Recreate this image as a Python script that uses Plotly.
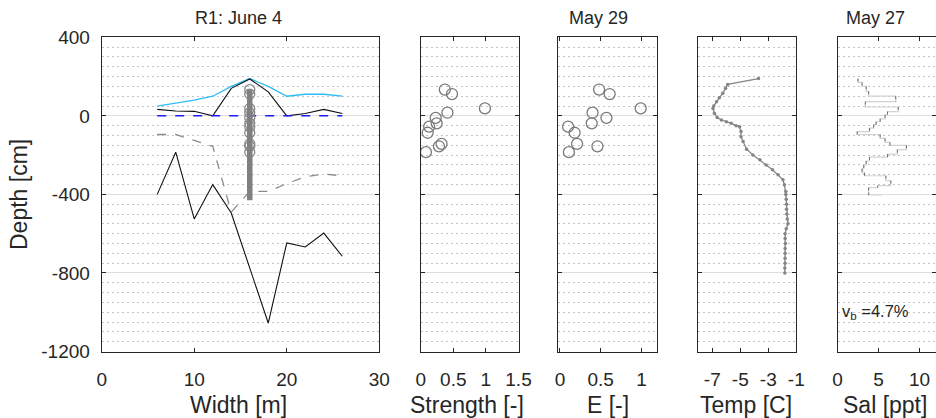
import plotly.graph_objects as go

# ---------------- data ----------------
width_x = [6, 8, 10, 12, 14, 16, 18, 20, 22, 24, 26]
snow_top = [50, 65, 80, 100, 150, 190, 150, 100, 110, 110, 100]
ice_top = [33, 25, 23, 0, 140, 188, 122, 0, 12, 33, 12]
water_level = [0, 0, 0, 0, 0, 0, 0, 0, 0, 0, 0]
ice_bottom = [-95, -95, -125, -155, -490, -385, -385, -345, -310, -297, -305]
ridge_bottom = [-400, -185, -525, -350, -495, -780, -1055, -647, -668, -597, -715]

core_x = 16
core_span = [134, -430]

sample_depth = [134, 111, 38, 16, -10, -38, -55, -86, -143, -155, -185]
strength = [0.37, 0.48, 0.985, 0.41, 0.23, 0.245, 0.13, 0.107, 0.32, 0.28, 0.08]
modulus_e = [0.48, 0.61, 0.99, 0.40, 0.57, 0.39, 0.10, 0.18, 0.21, 0.46, 0.11]

temp_depth = [190, 160, 140, 115, 92, 72, 50, 38, 13, -8, -21, -30, -38, -50, -55,
              -80, -106, -131, -170, -199, -224, -250, -275, -300, -326, -351, -385,
              -400, -425, -450, -475, -500, -525, -550, -575, -600, -625, -650, -675,
              -700, -725, -750, -775, -800]
temp_val = [-3.7, -5.9, -6.05, -6.25, -6.5, -6.7, -6.9, -6.95, -6.85, -6.65, -6.35, -6.0,
            -5.65, -5.3, -5.05, -4.95, -4.95, -4.8, -4.55, -4.1, -3.6, -3.15, -2.7, -2.3,
            -1.95, -1.85, -1.75, -1.75, -1.72, -1.7, -1.7, -1.68, -1.65, -1.6, -1.72, -1.8,
            -1.8, -1.78, -1.8, -1.8, -1.8, -1.8, -1.82, -1.82]

sal_top = [190, 170, 150, 125, 100, 72, 45, 22, 5, -15, -30, -45, -62, -80, -95,
           -115, -135, -150, -172, -195, -210, -230, -250, -270, -290, -305, -330, -355, -365]
sal_bot = [170, 150, 125, 100, 72, 45, 22, 5, -15, -30, -45, -62, -80, -95, -115,
           -135, -150, -172, -195, -210, -230, -250, -270, -290, -305, -330, -355, -365, -403]
sal_val = [2.5, 3.0, 3.5, 3.8, 7.1, 3.4, 7.4, 6.1, 5.8, 5.2, 4.7, 4.4, 3.9, 2.4, 5.2,
           5.8, 6.4, 8.4, 7.3, 6.1, 3.9, 3.5, 3.2, 3.0, 3.3, 5.9, 6.5, 4.9, 3.8]
sal_end = 5.4

titles = ["R1: June 4", "May 29", "May 27"]
xlabels = ["Width [m]", "Strength [-]", "E [-]", "Temp [C]", "Sal [ppt]"]
depth_ticks = [400, 0, -400, -800, -1200]

# ---------------- layout helpers ----------------
W, H = 936, 418
def px(p):
    return p / W
def py(p):
    return 1 - p / H

TXT = "#262626"
FONT = "Liberation Sans, Arial, sans-serif"
y_dom = [py(351.5), py(37.3)]

panels = [
    dict(dom=[101.7, 379.3], rng=[0, 30], tv=[0, 10, 20, 30], tt=["0", "10", "20", "30"]),
    dict(dom=[420.7, 518.5], rng=[0, 1.5], tv=[0, 0.5, 1, 1.5], tt=["0", "0.5", "1", "1.5"]),
    dict(dom=[558.3, 657.0], rng=[-0.02, 1.19], tv=[0, 0.5, 1], tt=["0", "0.5", "1"]),
    dict(dom=[698.3, 796.3], rng=[-8, -1], tv=[-7, -5, -3, -1], tt=["-7", "-5", "-3", "-1"]),
    dict(dom=[837.5, 935.5], rng=[0, 11.95], tv=[0, 5, 10], tt=["0", "5", "10"]),
]

fig = go.Figure()

def ax(i):
    return ("x" if i == 0 else f"x{i+1}"), ("y" if i == 0 else f"y{i+1}")

# main panel traces
xa, ya = ax(0)
fig.add_trace(go.Scatter(x=width_x, y=snow_top, mode="lines", line=dict(color="#2ebdf5", width=1.3),
                         xaxis=xa, yaxis=ya))
fig.add_trace(go.Scatter(x=width_x, y=ice_top, mode="lines", line=dict(color="#111111", width=1.1),
                         xaxis=xa, yaxis=ya))
fig.add_trace(go.Scatter(x=width_x, y=water_level, mode="lines",
                         line=dict(color="#1a1aff", width=1.5, dash="dash"), xaxis=xa, yaxis=ya))
fig.add_trace(go.Scatter(x=width_x, y=ice_bottom, mode="lines",
                         line=dict(color="#8c8c8c", width=1.3, dash="dash"), xaxis=xa, yaxis=ya))
fig.add_trace(go.Scatter(x=width_x, y=ridge_bottom, mode="lines", line=dict(color="#111111", width=1.1),
                         xaxis=xa, yaxis=ya))
fig.add_trace(go.Scatter(x=[core_x] * len(sample_depth), y=sample_depth, mode="markers",
                         marker=dict(symbol="circle-open", size=10, color="#8a8a8a", line=dict(width=1.3)),
                         xaxis=xa, yaxis=ya))
fig.add_trace(go.Scatter(x=[core_x, core_x], y=core_span, mode="lines",
                         line=dict(color="#808080", width=5.5), xaxis=xa, yaxis=ya))

# strength
xa, ya = ax(1)
fig.add_trace(go.Scatter(x=strength, y=sample_depth, mode="markers",
                         marker=dict(symbol="circle-open", size=11, color="#7a7a7a", line=dict(width=1.3)),
                         xaxis=xa, yaxis=ya))
# E
xa, ya = ax(2)
fig.add_trace(go.Scatter(x=modulus_e, y=sample_depth, mode="markers",
                         marker=dict(symbol="circle-open", size=11, color="#7a7a7a", line=dict(width=1.3)),
                         xaxis=xa, yaxis=ya))
# temperature
xa, ya = ax(3)
fig.add_trace(go.Scatter(x=temp_val, y=temp_depth, mode="lines+markers",
                         line=dict(color="#858585", width=1.3),
                         marker=dict(size=3.5, color="#858585"), xaxis=xa, yaxis=ya))
# salinity stairs
xa, ya = ax(4)
sx, sy = [], []
for i in range(len(sal_val)):
    sx += [sal_val[i], sal_val[i]]
    sy += [sal_top[i], sal_bot[i]]
sx.append(sal_end)
sy.append(sal_bot[-1])
fig.add_trace(go.Scatter(x=sx, y=sy, mode="lines", line=dict(color="#d2d2d2", width=1.2),
                         xaxis=xa, yaxis=ya))
vx, vy = [], []
for i in range(len(sal_val)):
    vx += [sal_val[i], sal_val[i], None]
    vy += [sal_top[i], sal_bot[i], None]
fig.add_trace(go.Scatter(x=vx, y=vy, mode="lines", line=dict(color="#707070", width=1, dash="3px,2px"),
                         xaxis=xa, yaxis=ya))

layout = dict(width=W, height=H, margin=dict(l=0, r=0, t=0, b=0, autoexpand=False), showlegend=False,
              paper_bgcolor="white", plot_bgcolor="white",
              font=dict(family=FONT, color=TXT, size=19))

for i, p in enumerate(panels):
    xk = "xaxis" if i == 0 else f"xaxis{i+1}"
    yk = "yaxis" if i == 0 else f"yaxis{i+1}"
    xa, ya = ax(i)
    layout[xk] = dict(domain=[px(p["dom"][0]), px(p["dom"][1])], range=p["rng"], anchor=ya,
                      tickvals=p["tv"], ticktext=p["tt"], showgrid=False, zeroline=False,
                      showline=True, linecolor=TXT, linewidth=1, mirror="ticks",
                      ticks="inside", ticklen=4, tickcolor=TXT, ticklabelstandoff=11,
                      tickfont=dict(size=19, color=TXT, family=FONT), fixedrange=True,
                      automargin=False)
    layout[yk] = dict(domain=y_dom, range=[-1200, 400], anchor=xa,
                      tickvals=depth_ticks, ticktext=[str(v) for v in depth_ticks],
                      showticklabels=(i == 0), showgrid=True, gridcolor="#dedede", gridwidth=1,
                      zeroline=False, showline=True, linecolor=TXT, linewidth=1, mirror="ticks",
                      ticks="inside", ticklen=4, tickcolor=TXT, ticklabelstandoff=7,
                      tickfont=dict(size=19, color=TXT, family=FONT),
                      minor=dict(dtick=50, tick0=0, showgrid=True, gridcolor="#c4c4c4",
                                 griddash="2px,3px", gridwidth=1, ticks=""),
                      fixedrange=True, automargin=False)
    if i > 0:
        layout[yk]["matches"] = "y"

ann = []
label_x = [238, 467, 608, 746, 885]
for lx, t in zip(label_x, xlabels):
    ann.append(dict(x=px(lx), y=py(405), xref="paper", yref="paper", text=t, showarrow=False,
                    xanchor="center", yanchor="middle", font=dict(size=23, color=TXT, family=FONT)))
ann.append(dict(x=px(19), y=py(195), xref="paper", yref="paper", text="Depth [cm]", showarrow=False,
                textangle=-90, xanchor="center", yanchor="middle",
                font=dict(size=23, color=TXT, family=FONT)))
for tx, t in zip([238, 598, 875], titles):
    ann.append(dict(x=px(tx), y=py(18), xref="paper", yref="paper", text=t, showarrow=False,
                    xanchor="center", yanchor="middle", font=dict(size=18, color=TXT, family=FONT)))
ann.append(dict(x=px(840), y=py(312), xref="paper", yref="paper", text="v<sub>b</sub> =4.7%",
                showarrow=False, xanchor="left", yanchor="middle",
                font=dict(size=16.5, color=TXT, family=FONT)))
layout["annotations"] = ann

fig.update_layout(**layout)
fig.write_html("out.html", config={"displayModeBar": False, "staticPlot": False},
               post_script="document.body.style.margin='0';document.body.style.overflow='hidden';")
